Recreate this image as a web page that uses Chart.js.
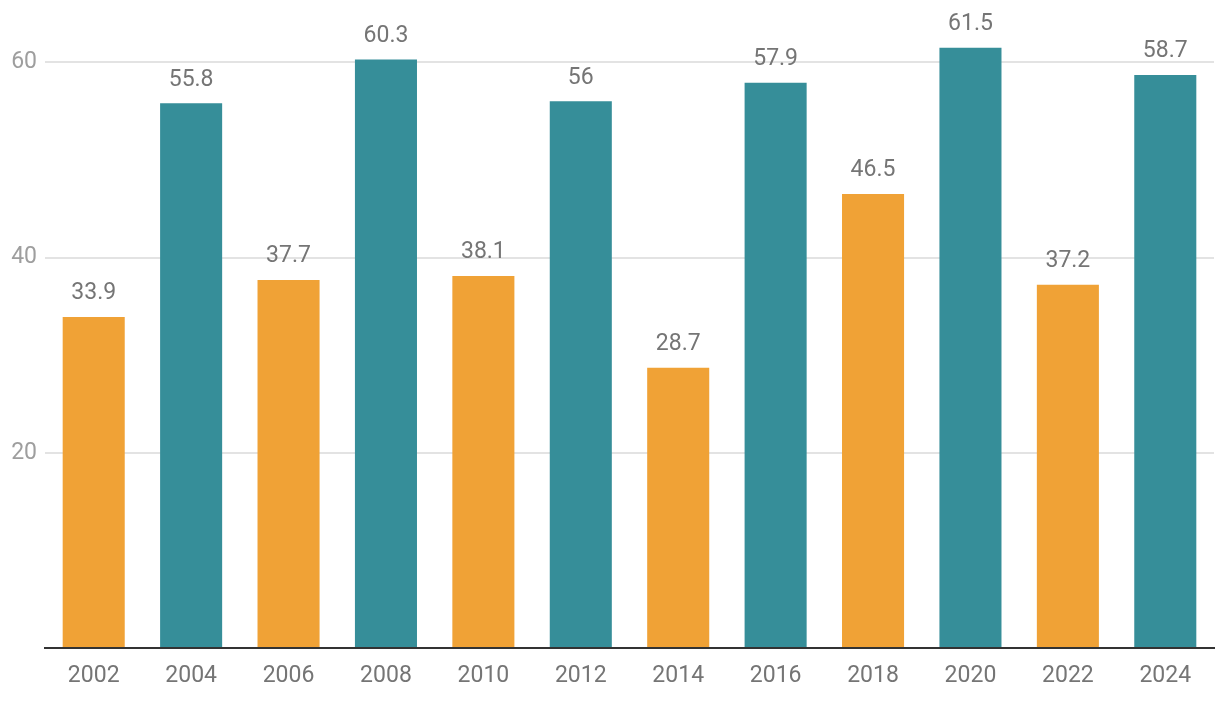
<!DOCTYPE html>
<html lang="en">
<head>
    <meta charset="UTF-8">
    <script src="https://cdn.jsdelivr.net/npm/chart.js@4"></script>
    <title>Chart</title>
    <style>
        html, body { margin: 0; padding: 0; background: #fff; }
        #wrap { width: 1220px; height: 704px; }
    </style>
</head>
<body>
<div id="wrap"><canvas id="myChart"></canvas></div>
<script>
// years and values
var years = ['2002', '2004', '2006', '2008', '2010', '2012', '2014', '2016', '2018', '2020', '2022', '2024'];
var values = [33.9, 55.8, 37.7, 60.3, 38.1, 56, 28.7, 57.9, 46.5, 61.5, 37.2, 58.7];
var yTicks = [20, 40, 60];

var ORANGE = '#f0a236';
var TEAL = '#368e99';
var barColors = years.map(function (y, i) { return i % 2 === 0 ? ORANGE : TEAL; });

// draws the value above each bar
var valueLabels = {
    id: 'valueLabels',
    afterDatasetsDraw: function (chart) {
        var ctx = chart.ctx;
        var meta = chart.getDatasetMeta(0);
        ctx.save();
        ctx.font = '23px Roboto';
        ctx.fillStyle = '#757575';
        ctx.textAlign = 'center';
        ctx.textBaseline = 'bottom';
        meta.data.forEach(function (bar, i) {
            ctx.fillText(String(values[i]), bar.x, bar.y - 12);
        });
        ctx.restore();
    }
};

var ctx = document.getElementById('myChart').getContext('2d');
var chart = new Chart(ctx, {
    type: 'bar',
    data: {
        labels: years,
        datasets: [{
            data: values,
            backgroundColor: barColors,
            categoryPercentage: 1,
            barPercentage: 0.637
        }]
    },
    options: {
        responsive: true,
        maintainAspectRatio: false,
        animation: false,
        layout: { padding: { top: 7, right: 6, left: 0, bottom: 0 } },
        plugins: {
            legend: { display: false },
            tooltip: { enabled: false }
        },
        scales: {
            x: {
                grid: { display: false, drawTicks: false },
                border: { display: true, color: '#333333', width: 2 },
                ticks: {
                    color: '#757575',
                    font: { family: 'Roboto', size: 23 },
                    padding: 14,
                    maxRotation: 0
                },
                afterFit: function (s) { s.height = 56; }
            },
            y: {
                min: 0,
                max: 64.15,
                afterBuildTicks: function (s) {
                    s.ticks = [0].concat(yTicks).map(function (v) { return { value: v }; });
                },
                grid: { color: '#e3e3e3', lineWidth: 2, drawTicks: false },
                border: { display: false },
                ticks: {
                    color: '#9e9e9e',
                    font: { family: 'Roboto', size: 23 },
                    padding: 8,
                    callback: function (v) { return v === 0 ? '' : v; }
                },
                afterFit: function (s) { s.width = 45; }
            }
        }
    },
    plugins: [valueLabels]
});
</script>
</body>
</html>
